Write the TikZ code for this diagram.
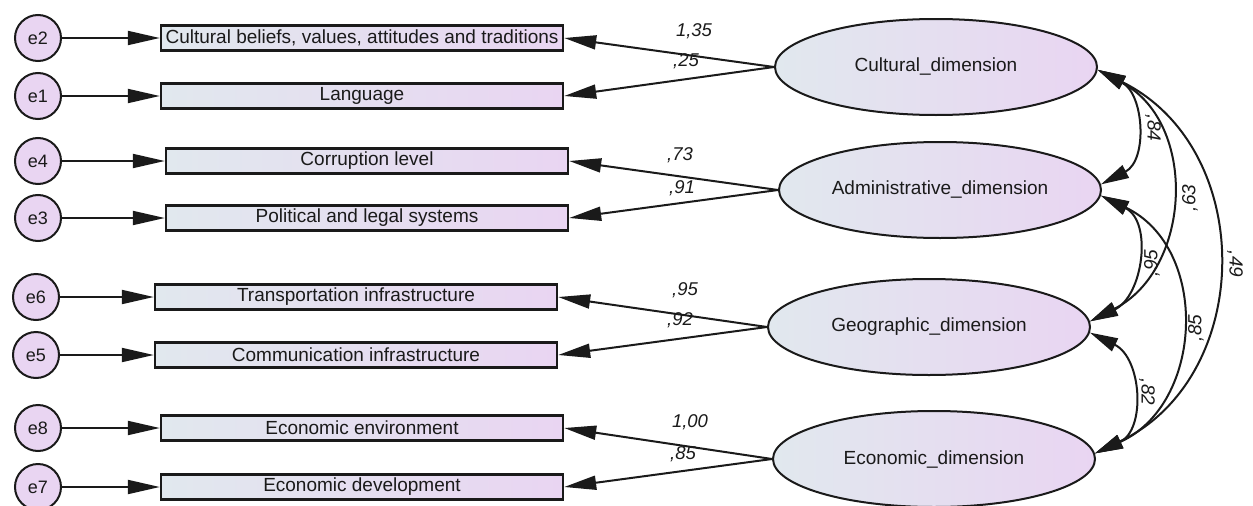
\documentclass[tikz,border=0pt]{standalone}
\usepackage{fontspec}
\setmainfont{Liberation Sans}
\usetikzlibrary{arrows.meta,shapes.geometric}
\definecolor{lav}{HTML}{E9D5F2}
\definecolor{bluegrey}{HTML}{E1E8EE}
\definecolor{ink}{HTML}{1A1A1A}
\begin{document}
\begin{tikzpicture}[x=1pt,y=-1pt,
  errnode/.style={circle, draw=ink, line width=2pt, fill=lav, minimum size=46pt, inner sep=0pt, text=ink, font=\fontsize{18}{20}\selectfont},
  obsbox/.style={rectangle, draw=ink, line width=2.4pt, left color=bluegrey, right color=lav, minimum width=402pt, minimum height=25pt, inner sep=0pt, text=ink, font=\fontsize{19}{21}\selectfont},
  latent/.style={ellipse, draw=ink, line width=2pt, left color=bluegrey, right color=lav, minimum width=322pt, minimum height=96pt, inner sep=0pt, text=ink, font=\fontsize{19}{21}\selectfont},
  arr/.style={line width=2pt, draw=ink, -{Triangle[length=32pt,width=14pt]}},
  cov/.style={line width=2pt, draw=ink, {Triangle[length=28pt,width=14pt]}-{Triangle[length=28pt,width=14pt]}},
  load/.style={font=\itshape\fontsize{18.5}{20}\selectfont, text=ink, inner sep=0pt},
  covlab/.style={font=\itshape\fontsize{19}{21}\selectfont, text=ink, inner sep=0pt}
]
\useasboundingbox[fill=white] (0,0) rectangle (1253,506);

% error terms
\node[errnode] (e2) at (38,38) {e2};
\node[errnode] (e1) at (38,96) {e1};
\node[errnode] (e4) at (38,161) {e4};
\node[errnode] (e3) at (38,218) {e3};
\node[errnode] (e6) at (36,297) {e6};
\node[errnode] (e5) at (36,355) {e5};
\node[errnode] (e8) at (38,428) {e8};
\node[errnode] (e7) at (38,487) {e7};

% observed variables
\node[obsbox] (o2) at (362,38) {Cultural beliefs, values, attitudes and traditions};
\node[obsbox] (o1) at (362,96) {Language};
\node[obsbox] (o4) at (367,161) {Corruption level};
\node[obsbox] (o3) at (367,218) {Political and legal systems};
\node[obsbox] (o6) at (356,297) {Transportation infrastructure};
\node[obsbox] (o5) at (356,355) {Communication infrastructure};
\node[obsbox] (o8) at (362,428) {Economic environment};
\node[obsbox] (o7) at (362,487) {Economic development};

% latent variables
\node[latent] (cul) at (936,67) {Cultural\_dimension};
\node[latent] (adm) at (940,190) {Administrative\_dimension};
\node[latent] (geo) at (929,327) {Geographic\_dimension};
\node[latent] (eco) at (934,459) {Economic\_dimension};

% error arrows
\foreach \e/\o in {e2/o2,e1/o1,e4/o4,e3/o3,e6/o6,e5/o5,e8/o8,e7/o7}
  \draw[arr] (\e) -- (\o);

% loadings
\draw[arr] (cul.west) -- (o2.east);
\draw[arr] (cul.west) -- (o1.east);
\draw[arr] (adm.west) -- (o4.east);
\draw[arr] (adm.west) -- (o3.east);
\draw[arr] (geo.west) -- (o6.east);
\draw[arr] (geo.west) -- (o5.east);
\draw[arr] (eco.west) -- (o8.east);
\draw[arr] (eco.west) -- (o7.east);

\node[load] (w1) at (694,31) {1,35};
\node[load] (w2) at (686,61) {,25};
\node[load] (w3) at (680,155) {,73};
\node[load] (w4) at (682,188) {,91};
\node[load] (w5) at (685,290) {,95};
\node[load] (w6) at (680,320) {,92};
\node[load] (w7) at (690,422) {1,00};
\node[load] (w8) at (683,454) {,85};

% covariances (near-circular arcs)
\draw[cov] (cul.-1.5) .. controls (1144,94) and (1148,160) .. (adm.2);
\draw[cov] (cul.-1.5) .. controls (1198,123) and (1192,269) .. (geo.2);
\draw[cov] (cul.-1.5) .. controls (1257,149) and (1255,377) .. (eco.2);
\draw[cov] (adm.-2) .. controls (1153,222) and (1143,296) .. (geo.2);
\draw[cov] (adm.-2) .. controls (1210,248) and (1204,404) .. (eco.2);
\draw[cov] (geo.-2) .. controls (1142,358) and (1146,430) .. (eco.2);

\node[covlab, rotate=-90] (l84) at (1153,128) {,84};
\node[covlab, rotate=90] (l63) at (1190,198) {,63};
\node[covlab, rotate=-90] (l49) at (1235,264) {,49};
\node[covlab, rotate=90] (l95) at (1152,263) {,95};
\node[covlab, rotate=90] (l85) at (1196,328) {,85};
\node[covlab, rotate=-90] (l82) at (1147,392) {,82};
\end{tikzpicture}
\end{document}
